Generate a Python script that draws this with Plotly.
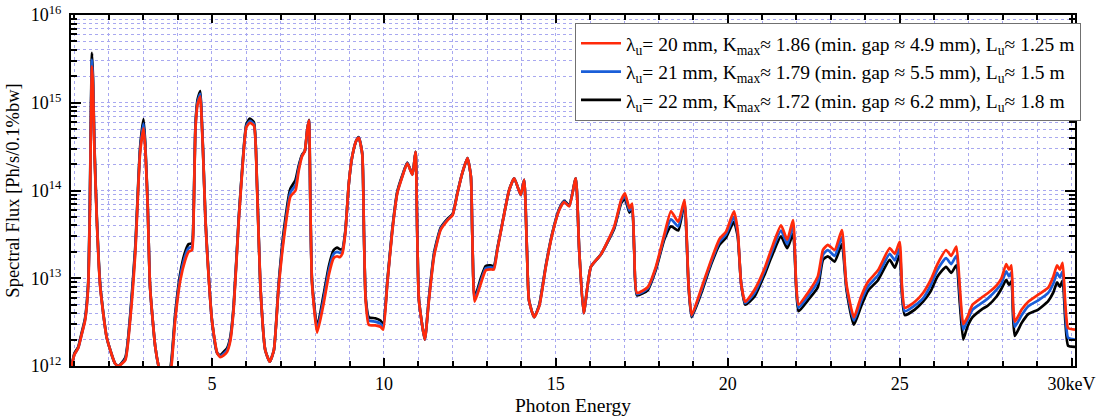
import plotly.graph_objects as go

# Photon energy [keV]
energy = [
    0.92, 1.00, 1.11, 1.20, 1.31, 1.40, 1.45, 1.48, 1.51, 1.54, 1.58, 1.65, 1.75, 1.94, 2.18, 2.28, 2.48, 2.62, 2.77, 2.91, 3.01, 3.06, 3.13, 3.20, 3.35, 3.45, 3.55, 3.72,
    3.82, 3.93, 4.08, 4.22, 4.32, 4.42, 4.46, 4.52, 4.58, 4.66, 4.70, 4.74, 4.81, 4.86, 5.00, 5.15, 5.24, 5.34, 5.44, 5.53, 5.63, 5.78, 5.92, 6.00, 6.10, 6.22, 6.31, 6.41, 6.55, 6.68, 6.80,
    6.94, 7.09, 7.28, 7.43, 7.52, 7.62, 7.70, 7.77, 7.82, 7.86, 7.91, 8.06, 8.25, 8.40, 8.54, 8.64, 8.72, 8.79, 8.88, 8.98, 9.08, 9.20, 9.27, 9.37, 9.42, 9.47, 9.56, 9.75, 9.90, 9.98,
    10.10, 10.24, 10.39, 10.54, 10.68, 10.83, 10.92, 10.97, 11.02, 11.19, 11.31, 11.46, 11.65, 11.85, 12.00, 12.14, 12.28, 12.43, 12.53, 12.57, 12.64, 12.82, 12.96, 13.11, 13.20,
    13.30, 13.45, 13.64, 13.79, 13.98, 14.08, 14.16, 14.22, 14.37, 14.52, 14.71, 14.90, 15.10, 15.24, 15.39, 15.58, 15.68, 15.81, 16.02, 16.31,
    16.70, 16.90, 17.01, 17.14, 17.22, 17.28, 17.36, 17.67, 17.91, 18.16, 18.35, 18.56, 18.74, 18.86, 18.95, 19.22, 19.52, 19.76, 19.95, 20.18, 20.29, 20.39, 20.51,
    20.78, 21.07, 21.26, 21.55, 21.73, 21.90, 21.99, 22.06, 22.33, 22.62, 22.77, 22.91, 23.11, 23.32, 23.45, 23.67, 23.88, 24.08, 24.37, 24.71, 24.86, 25.00,
    25.07, 25.15, 25.44, 25.68, 25.90, 26.10, 26.35, 26.50, 26.65, 26.75, 26.85, 26.97, 27.12, 27.38, 27.57, 27.82, 27.96, 28.10, 28.18, 28.25, 28.30, 28.35,
    28.55, 28.74, 29.03, 29.32, 29.47, 29.58, 29.66, 29.74, 29.82, 29.90, 30.10,
]

# Spectral flux in units of 1e12 Ph/s/0.1%bw
flux_20mm = [
    1.0, 1.35, 1.6, 2.2, 3.3, 7.9, 60, 600, 2600, 1500, 300, 46, 7.9, 2.1, 1.07, 1.0, 1.17, 3.3, 19.5, 270, 510, 300, 66, 7.9, 1.66, 0.98, 0.7, 0.6,
    0.98, 3.3, 9.5, 16, 20, 21, 40, 500, 950, 1175, 630, 270, 46, 19.5, 3.3, 1.41, 1.26, 1.32, 1.45, 1.9, 4.4, 46, 270, 525, 590, 550, 110, 7.9, 1.51, 1.12, 1.51,
    7.9, 28, 85, 100, 166, 245, 282, 490, 631, 78, 8.7, 2.4, 5.2, 11, 17, 17.8, 17.4, 19, 33, 120, 245, 372, 398, 263, 33, 5.6, 2.95, 2.9, 2.8, 2.6,
    8.7, 33, 93, 145, 204, 151, 275, 33, 5.6, 2.0, 5.6, 17.8, 35.5, 45.7, 52.5, 93, 158, 234, 145, 33, 5.4, 8.7, 12.3, 12.6, 12.6,
    21, 42.7, 100, 138, 89, 132, 21, 5.6, 3.6, 4.8, 13.5, 32, 60, 74, 66, 138, 21, 4.0, 13.5, 18.6,
    39, 78, 93, 63, 71, 21, 6.8, 7.9, 13.5, 32, 58, 44, 78, 8.7, 3.8, 7.4, 16.2, 28, 34, 58, 35, 8.7, 5.4,
    7.4, 12.9, 21, 40, 27.5, 46, 8.7, 5.0, 6.8, 10.5, 21, 24, 21, 35.5, 8.7, 3.6, 6.2, 9.1, 12.3, 22, 19, 26,
    7.9, 4.6, 5.4, 6.8, 9.5, 14.5, 21, 18, 23, 7.9, 3.0, 3.6, 5.0, 6.0, 6.8, 8.3, 10, 14.5, 12.5, 14, 5.0, 3.2,
    4.4, 5.4, 6.5, 7.8, 10.5, 14, 12.5, 15, 5.0, 2.7, 2.6,
]

flux_21mm = [
    1.0, 1.35, 1.6, 2.2, 3.4, 8.3, 70, 700, 3100, 1700, 320, 48, 8.1, 2.1, 1.07, 1.0, 1.2, 3.5, 21, 290, 580, 320, 68, 7.9, 1.66, 0.98, 0.7, 0.65,
    1.05, 3.6, 10.5, 18, 22, 23, 43, 530, 1010, 1260, 660, 280, 47, 20, 3.3, 1.41, 1.29, 1.38, 1.52, 2.0, 4.6, 48, 280, 545, 620, 570, 115, 7.9, 1.51, 1.12, 1.51,
    8.3, 31, 95, 115, 178, 250, 282, 490, 631, 78, 9.0, 2.6, 5.9, 12.4, 19, 20, 19.5, 20.2, 34, 120, 245, 372, 400, 263, 33, 5.8, 3.3, 3.2, 3.05, 2.8,
    8.9, 34, 95, 147, 206, 152, 275, 33, 5.6, 2.0, 5.8, 18.5, 36.5, 46.5, 53, 94, 158, 234, 145, 33, 5.7, 9.3, 13, 13.3, 13.2,
    21.5, 43, 100, 138, 89, 132, 21, 5.6, 3.6, 4.9, 13.8, 32.5, 61, 75, 67, 138, 21, 4.0, 13.5, 18.6,
    38, 75, 87, 59, 67, 21, 6.6, 7.6, 13, 30, 47, 39, 75, 8.5, 3.7, 7.0, 15.3, 26, 31.5, 50, 32.5, 8.7, 5.2,
    6.8, 12, 19, 35, 24.5, 39, 8.3, 4.6, 6.2, 9.1, 18.5, 21, 18, 29.5, 8.1, 3.3, 5.5, 8.1, 10.8, 19, 16, 22,
    7.1, 4.2, 4.9, 5.9, 8.3, 12.5, 17, 14.5, 18, 6.6, 2.6, 3.3, 4.4, 5.2, 5.9, 7.4, 8.7, 12, 10.5, 11.7, 4.4, 2.8,
    3.8, 4.8, 5.6, 6.8, 8.7, 11.5, 10.2, 12, 4.0, 2.1, 2.0,
]

flux_22mm = [
    1.0, 1.4, 1.65, 2.3, 3.5, 8.9, 80, 800, 3700, 1900, 340, 50, 8.3, 2.1, 1.07, 1.0, 1.25, 3.7, 23, 310, 650, 340, 70, 7.9, 1.66, 0.98, 0.7, 0.7,
    1.15, 3.9, 11.5, 20, 24.5, 25, 46, 560, 1080, 1360, 700, 290, 48, 20.5, 3.3, 1.41, 1.32, 1.45, 1.6, 2.1, 4.8, 50, 290, 570, 660, 600, 120, 7.9, 1.51, 1.12, 1.51,
    8.7, 35, 105, 132, 190, 255, 282, 490, 640, 78, 9.3, 2.8, 6.6, 13.8, 21, 22.4, 21.4, 21.4, 35, 120, 245, 372, 405, 263, 33, 6.0, 3.6, 3.5, 3.3, 3.0,
    9.2, 35, 97, 150, 208, 153, 275, 33, 5.6, 2.0, 6.0, 19.5, 37.5, 47.5, 54, 95, 158, 234, 145, 33, 6.0, 10, 13.8, 14, 13.8,
    22, 43.5, 100, 138, 89, 132, 21, 5.6, 3.6, 5.0, 14, 33, 62, 76, 68, 138, 21, 4.0, 13.5, 18.6,
    37, 72, 81, 56, 63, 21, 6.4, 7.3, 12.5, 28, 39, 35, 72, 8.3, 3.6, 6.6, 14.5, 24, 29, 44, 30, 8.7, 5.0,
    6.2, 11, 17, 30, 22, 32, 7.9, 4.2, 5.6, 7.9, 16.2, 17.8, 15.5, 24.5, 7.6, 2.95, 4.8, 7.2, 9.5, 16.2, 13.2, 18.6,
    6.3, 3.8, 4.4, 5.4, 7.1, 10.5, 13.5, 11.5, 14, 5.2, 2.0, 2.8, 3.6, 4.4, 4.9, 6.2, 7.6, 9.6, 8.4, 9.2, 3.6, 2.2,
    3.1, 3.9, 4.4, 5.5, 6.9, 9, 8, 9.4, 3.2, 1.7, 1.65,
]

FLUX_UNIT = 1e12

labels = [
    "λ<sub>u</sub>= 20 mm, K<sub>max</sub>≈ 1.86 (min. gap ≈ 4.9 mm), L<sub>u</sub>≈ 1.25 m",
    "λ<sub>u</sub>= 21 mm, K<sub>max</sub>≈ 1.79 (min. gap ≈ 5.5 mm), L<sub>u</sub>≈ 1.5 m",
    "λ<sub>u</sub>= 22 mm, K<sub>max</sub>≈ 1.72 (min. gap ≈ 6.2 mm), L<sub>u</sub>≈ 1.8 m",
]
colors = ["#ff2a0a", "#1a5ed8", "#000000"]

x_tickvals = [5, 10, 15, 20, 25, 30]
x_ticktext = ["5", "10", "15", "20", "25", "30keV"]
y_tickvals = [1e12, 1e13, 1e14, 1e15, 1e16]
y_ticktext = ["10<sup>12</sup>", "10<sup>13</sup>", "10<sup>14</sup>", "10<sup>15</sup>", "10<sup>16</sup>"]

assert len(energy) == len(flux_20mm) == len(flux_21mm) == len(flux_22mm)

FONT = "Liberation Serif"
GRID = "#a8a8f0"

fig = go.Figure()
series = [flux_20mm, flux_21mm, flux_22mm]
# draw black first, red last (on top)
for idx in [2, 1, 0]:
    fig.add_trace(go.Scatter(
        x=energy,
        y=[v * FLUX_UNIT for v in series[idx]],
        mode="lines",
        name=labels[idx],
        line=dict(color=colors[idx], width=2.7, shape="spline", smoothing=0.5),
        hoverinfo="skip",
    ))

fig.update_layout(
    width=1101, height=416,
    margin=dict(l=71, r=26, t=15, b=50, autoexpand=False),
    paper_bgcolor="white", plot_bgcolor="white",
    font=dict(family=FONT, size=18, color="black"),
    showlegend=True,
    legend=dict(
        x=0.502, xanchor="left", y=0.977, yanchor="top",
        bgcolor="white", bordercolor="#707070", borderwidth=1,
        traceorder="reversed", itemwidth=40,
        font=dict(family=FONT, size=19.5, color="black"),
        tracegroupgap=0,
    ),
)

fig.update_xaxes(
    range=[0.9, 30.1],
    tickmode="array", tickvals=x_tickvals, ticktext=x_ticktext,
    ticks="inside", ticklen=8, tickwidth=2, tickcolor="black",
    showline=True, linewidth=2, linecolor="black", mirror="allticks",
    showgrid=True, gridcolor=GRID, griddash="dot", gridwidth=1,
    minor=dict(dtick=1, tick0=0, ticks="inside", ticklen=5, tickwidth=1.5, tickcolor="black",
               showgrid=True, gridcolor=GRID, griddash="dot", gridwidth=1),
    tickfont=dict(family=FONT, size=18),
    ticklabeloverflow="allow",
    title=dict(text="Photon Energy", font=dict(family=FONT, size=19.5), standoff=6),
    zeroline=False, automargin=False,
)

fig.update_yaxes(
    type="log", range=[12, 16],
    tickmode="array", tickvals=y_tickvals, ticktext=y_ticktext,
    ticks="inside", ticklen=10, tickwidth=2, tickcolor="black",
    showline=True, linewidth=2, linecolor="black", mirror="allticks",
    showgrid=True, gridcolor=GRID, griddash="dot", gridwidth=1,
    minor=dict(dtick="D1", ticks="inside", ticklen=6, tickwidth=1.5, tickcolor="black",
               showgrid=True, gridcolor=GRID, griddash="dot", gridwidth=1),
    tickfont=dict(family=FONT, size=18),
    ticklabeloverflow="allow", ticklabelstandoff=4,
    title=dict(text="Spectral Flux [Ph/s/0.1%bw]", font=dict(family=FONT, size=18.5), standoff=6),
    zeroline=False, automargin=False,
)

fig.write_html("out.html", config={"displayModeBar": False},
               post_script="document.body.style.margin='0';")
